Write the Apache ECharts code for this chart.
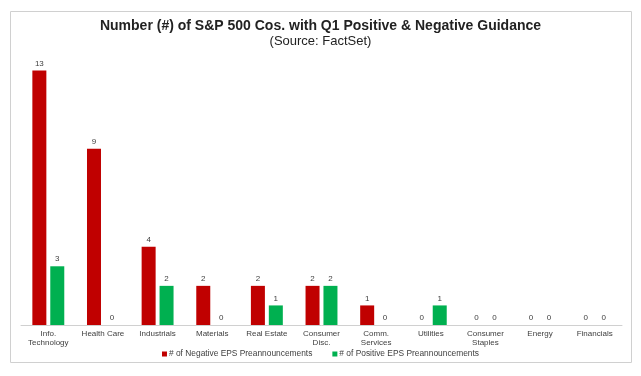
<!DOCTYPE html>
<html><head><meta charset="utf-8">
<script src="https://cdn.jsdelivr.net/npm/echarts@6/dist/echarts.min.js"></script>
<style>html,body{margin:0;padding:0;background:#fff}#c{width:641px;height:376px}</style>
</head><body><div id="c"></div>
<script>
const categories = ["Info.\nTechnology","Health Care","Industrials","Materials","Real Estate","Consumer\nDisc.","Comm.\nServices","Utilities","Consumer\nStaples","Energy","Financials"];
const negative = [13,9,4,2,2,2,1,0,0,0,0];
const positive = [3,0,2,0,1,2,0,1,0,0,0];
const seriesNames = ["# of Negative EPS Preannouncements","# of Positive EPS Preannouncements"];

const chart = echarts.init(document.getElementById('c'), null, {renderer:'canvas'});
const lbl = {show:true, position:'top', distance:3, color:'#404040', fontSize:8, fontFamily:'Liberation Sans, Arial'};
chart.setOption({
  animation:false,
  title:{
    text:'Number (#) of S&P 500 Cos. with Q1 Positive & Negative Guidance',
    subtext:'(Source: FactSet)',
    left:'center', top:14, itemGap:1.5,
    textStyle:{fontFamily:'Liberation Sans, Arial', fontWeight:'bold', fontSize:14, color:'#222', lineHeight:14},
    subtextStyle:{fontFamily:'Liberation Sans, Arial', fontSize:13, color:'#222', lineHeight:13}
  },
  graphic:[{type:'rect', shape:{x:10.5,y:11.5,width:621,height:351}, style:{fill:null, stroke:'#d0d0d0', lineWidth:1}, z:-1}],
  legend:{
    bottom:13, left:'center', itemWidth:5, itemHeight:5, itemGap:20, icon:'rect',
    textStyle:{fontFamily:'Liberation Sans, Arial', fontSize:8.4, color:'#404040', padding:[0,0,0,-3]},
    data:seriesNames
  },
  grid:{left:21, right:19, top:51, bottom:51},
  xAxis:{
    type:'category', data:categories,
    axisLine:{lineStyle:{color:'#d0d0d0'}}, axisTick:{show:false},
    axisLabel:{interval:0, fontFamily:'Liberation Sans, Arial', fontSize:8, color:'#404040', lineHeight:9, margin:4}
  },
  yAxis:{type:'value', min:0, max:14, show:false, splitLine:{show:false}},
  series:[
    {name:seriesNames[0], type:'bar', data:negative, itemStyle:{color:'#C00000'}, barWidth:14, barGap:'28%', label:lbl},
    {name:seriesNames[1], type:'bar', data:positive, itemStyle:{color:'#00B050'}, barWidth:14, label:lbl}
  ]
});
</script></body></html>
